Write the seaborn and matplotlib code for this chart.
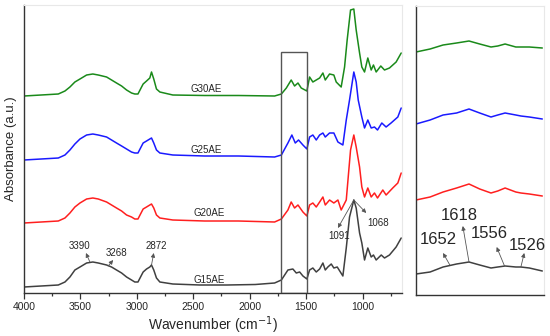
import pandas as pd
import matplotlib.pyplot as plt
import seaborn as sns
from matplotlib.patches import Rectangle

# Stacked FTIR spectra (arbitrary offset units)
wn_g15 = [4000, 3696, 3637, 3593, 3549, 3504, 3445, 3390, 3342, 3268, 3224, 3180, 3135, 3091, 3047,
          3018, 2990, 2958, 2944, 2914, 2885, 2870, 2850, 2826, 2796, 2681,
          2442, 2200, 1950, 1779, 1719, 1661, 1617, 1587, 1557, 1528, 1493, 1469, 1440, 1410,
          1380, 1351, 1330, 1307, 1277, 1254, 1224, 1174, 1144, 1115, 1077, 1056, 1026, 1006, 982,
          953, 923, 903, 879, 834, 805, 761, 702, 657]
ab_g15 = [0.06, 0.08, 0.11, 0.16, 0.23, 0.26, 0.30, 0.31, 0.30, 0.28, 0.26, 0.23, 0.20, 0.16, 0.13,
          0.11, 0.11, 0.18, 0.21, 0.24, 0.26, 0.28, 0.23, 0.15, 0.11, 0.09,
          0.08, 0.08, 0.085, 0.10, 0.13, 0.23, 0.24, 0.20, 0.21, 0.17, 0.14, 0.23, 0.25, 0.21,
          0.24, 0.30, 0.23, 0.26, 0.29, 0.25, 0.26, 0.17, 0.45, 0.76, 0.93, 0.85, 0.60, 0.50, 0.33,
          0.45, 0.36, 0.38, 0.33, 0.38, 0.35, 0.38, 0.46, 0.55]

wn_g20 = [4000, 3696, 3637, 3593, 3549, 3504, 3445, 3390, 3342, 3268, 3224, 3180, 3135, 3091, 3047,
          3018, 2990, 2958, 2944, 2914, 2885, 2870, 2850, 2826, 2796, 2681,
          2400, 2100, 1779, 1719, 1661, 1632, 1602, 1572, 1528, 1493, 1469, 1440, 1410, 1380, 1351,
          1330, 1292, 1254, 1218, 1189, 1144, 1106, 1077, 1056, 1026, 1006, 982, 953, 923, 894,
          867, 820, 791, 732, 687, 657]
ab_g20 = [0.70, 0.72, 0.75, 0.80, 0.86, 0.90, 0.94, 0.95, 0.94, 0.91, 0.88, 0.85, 0.82, 0.78, 0.76,
          0.74, 0.74, 0.81, 0.84, 0.86, 0.88, 0.89, 0.85, 0.78, 0.75, 0.73,
          0.72, 0.72, 0.71, 0.74, 0.83, 0.91, 0.85, 0.88, 0.81, 0.77, 0.88, 0.90, 0.86, 0.91, 0.96,
          0.88, 0.93, 0.90, 0.93, 0.83, 0.93, 1.43, 1.58, 1.46, 1.26, 1.06, 0.96, 1.05, 0.96, 1.00,
          0.95, 1.03, 0.98, 1.05, 1.10, 1.20]

wn_g25 = [4000, 3696, 3637, 3593, 3549, 3504, 3445, 3390, 3342, 3268, 3224, 3180, 3135, 3091, 3047,
          3018, 2990, 2958, 2944, 2914, 2885, 2870, 2850, 2826, 2796, 2681,
          2400, 2100, 1779, 1719, 1661, 1626, 1596, 1567, 1528, 1493, 1469, 1440, 1410, 1380, 1351,
          1330, 1292, 1254, 1218, 1174, 1144, 1115, 1077, 1056, 1038, 1006, 982, 953, 923, 894,
          867, 829, 791, 747, 687, 657]
ab_g25 = [1.33, 1.35, 1.38, 1.43, 1.49, 1.54, 1.58, 1.59, 1.58, 1.56, 1.53, 1.50, 1.47, 1.44, 1.41,
          1.40, 1.40, 1.47, 1.50, 1.52, 1.54, 1.55, 1.50, 1.43, 1.40, 1.38,
          1.37, 1.37, 1.36, 1.38, 1.50, 1.58, 1.50, 1.53, 1.48, 1.44, 1.56, 1.58, 1.53, 1.58, 1.60,
          1.56, 1.60, 1.60, 1.51, 1.48, 1.73, 1.93, 2.21, 2.11, 1.93, 1.76, 1.65, 1.73, 1.65, 1.66,
          1.63, 1.70, 1.66, 1.70, 1.76, 1.85]

wn_g30 = [4000, 3696, 3637, 3593, 3549, 3504, 3445, 3390, 3342, 3268, 3224, 3180, 3135, 3091, 3047,
          3018, 2990, 2958, 2944, 2914, 2885, 2870, 2850, 2826, 2796, 2681,
          2400, 2100, 1779, 1719, 1675, 1632, 1602, 1572, 1543, 1493, 1469, 1440, 1410, 1380, 1351,
          1330, 1292, 1254, 1233, 1189, 1159, 1136, 1106, 1077, 1056, 1026, 1006, 982, 953, 923,
          903, 879, 838, 805, 761, 702, 657]
ab_g30 = [1.97, 1.99, 2.02, 2.06, 2.11, 2.14, 2.18, 2.19, 2.18, 2.16, 2.13, 2.10, 2.07, 2.03, 2.00,
          1.99, 1.99, 2.06, 2.09, 2.12, 2.15, 2.21, 2.14, 2.04, 2.01, 1.98,
          1.975, 1.975, 1.97, 1.99, 2.05, 2.13, 2.07, 2.10, 2.05, 2.02, 2.16, 2.11, 2.13, 2.15, 2.20,
          2.13, 2.19, 2.18, 2.11, 2.06, 2.26, 2.53, 2.83, 2.84, 2.63, 2.40, 2.26, 2.21, 2.35, 2.23,
          2.28, 2.21, 2.27, 2.23, 2.25, 2.31, 2.40]

# Zoomed 1712-1488 cm-1 region (right panel, its own offsets)
wn_zoom = [1712, 1687, 1664, 1640, 1618, 1599, 1579, 1567, 1554, 1535, 1526, 1511, 1488]
zoom_g30 = [2.43, 2.46, 2.50, 2.52, 2.54, 2.51, 2.48, 2.49, 2.51, 2.48, 2.48, 2.48, 2.47]
zoom_g25 = [1.71, 1.75, 1.80, 1.82, 1.86, 1.82, 1.78, 1.80, 1.82, 1.80, 1.79, 1.78, 1.76]
zoom_g20 = [0.95, 0.98, 1.03, 1.07, 1.11, 1.06, 1.02, 1.04, 1.07, 1.03, 1.02, 1.01, 0.99]
zoom_g15 = [0.21, 0.23, 0.28, 0.31, 0.33, 0.30, 0.27, 0.28, 0.29, 0.28, 0.28, 0.27, 0.24]

samples = ["G15AE", "G20AE", "G25AE", "G30AE"]
colors = {"G15AE": "#404040", "G20AE": "#ff1f1f", "G25AE": "#1a1aff", "G30AE": "#1a8a1a"}
label_pos = {"G15AE": (2360, 0.13), "G20AE": (2360, 0.80), "G25AE": (2385, 1.43), "G30AE": (2385, 2.04)}

main_peaks = [("3390", 3416, 0.31, 3451, 0.40, 3504, 0.47),
              ("3268", 3254, 0.27, 3210, 0.33, 3180, 0.40),
              ("2872", 2870, 0.28, 2850, 0.40, 2826, 0.47),
              ("1091", 1077, 0.93, 1218, 0.65, 1203, 0.57),
              ("1068", 1077, 0.93, 967, 0.80, 864, 0.70)]
zoom_peaks = [("1652", 1652, 0.30, 1664, 0.42, 1673, 0.55),
              ("1618", 1618, 0.33, 1629, 0.69, 1635, 0.79),
              ("1556", 1555, 0.29, 1569, 0.48, 1582, 0.62),
              ("1526", 1526, 0.28, 1520, 0.42, 1515, 0.49)]
box_wn = (1726, 1493)
box_top = 2.41

main_df = pd.concat([
    pd.DataFrame({"wn": wn_g15, "ab": ab_g15, "sample": "G15AE"}),
    pd.DataFrame({"wn": wn_g20, "ab": ab_g20, "sample": "G20AE"}),
    pd.DataFrame({"wn": wn_g25, "ab": ab_g25, "sample": "G25AE"}),
    pd.DataFrame({"wn": wn_g30, "ab": ab_g30, "sample": "G30AE"}),
])
zoom_df = pd.concat([
    pd.DataFrame({"wn": wn_zoom, "ab": zoom_g15, "sample": "G15AE"}),
    pd.DataFrame({"wn": wn_zoom, "ab": zoom_g20, "sample": "G20AE"}),
    pd.DataFrame({"wn": wn_zoom, "ab": zoom_g25, "sample": "G25AE"}),
    pd.DataFrame({"wn": wn_zoom, "ab": zoom_g30, "sample": "G30AE"}),
])

sns.set_style("ticks")
plt.rcParams["font.family"] = ["Liberation Sans", "DejaVu Sans"]

fig = plt.figure(figsize=(5.5, 3.36), dpi=100)
ax = fig.add_axes([24 / 550, 1 - 293 / 336, 378 / 550, 288 / 336])
ax2 = fig.add_axes([416 / 550, 1 - 295 / 336, 128 / 550, 289 / 336])

sns.lineplot(data=main_df, x="wn", y="ab", hue="sample", palette=colors, estimator=None,
             lw=1.1, legend=False, ax=ax)
sns.lineplot(data=zoom_df, x="wn", y="ab", hue="sample", palette=colors, estimator=None,
             lw=1.1, legend=False, ax=ax2)

arrow = dict(arrowstyle="-|>", lw=0.6, color="#555555", mutation_scale=6, shrinkA=0, shrinkB=0)

# main panel
ax.set_xlim(4000, 650)
ax.set_ylim(0, 2.88)
ax.set_xticks([4000, 3500, 3000, 2500, 2000, 1500, 1000])
ax.set_xticks(range(750, 4000, 500), minor=True)
ax.set_yticks([])
ax.tick_params(axis="x", which="major", length=4, width=0.9, labelsize=7.5, pad=2.5, color="#333333")
ax.tick_params(axis="x", which="minor", length=2.5, width=0.9, color="#333333")
ax.set_xlabel("Wavenumber (cm$^{-1}$)", fontsize=10, labelpad=2)
ax.set_ylabel("Absorbance (a.u.)", fontsize=9.5, labelpad=5)
ax.add_patch(Rectangle((box_wn[1], 0), box_wn[0] - box_wn[1], box_top, fill=False,
                       ec="#555555", lw=1.0, zorder=3))
for s in samples:
    ax.text(label_pos[s][0], label_pos[s][1], s, fontsize=7, ha="center", va="center")
for lab, x0, y0, x1, y1, tx, ty in main_peaks:
    ax.annotate("", xy=(x1, y1), xytext=(x0, y0), arrowprops=arrow)
    ax.text(tx, ty, lab, fontsize=7, ha="center", va="center")

# zoom panel
ax2.set_xlim(1712, 1485)
ax2.set_ylim(0, 2.89)
ax2.set_xticks([])
ax2.set_yticks([])
ax2.set_xlabel("")
ax2.set_ylabel("")
for lab, x0, y0, x1, y1, tx, ty in zoom_peaks:
    ax2.annotate("", xy=(x1, y1), xytext=(x0, y0), arrowprops=arrow)
    ax2.text(tx, ty, lab, fontsize=12, ha="center", va="center")

for a in (ax, ax2):
    for side in ("left", "bottom"):
        a.spines[side].set_color("#333333")
        a.spines[side].set_linewidth(1.0)
    for side in ("top", "right"):
        a.spines[side].set_visible(True)
        a.spines[side].set_color("#e8e8e8")
        a.spines[side].set_linewidth(0.8)

fig.savefig("out.png", dpi=100)
